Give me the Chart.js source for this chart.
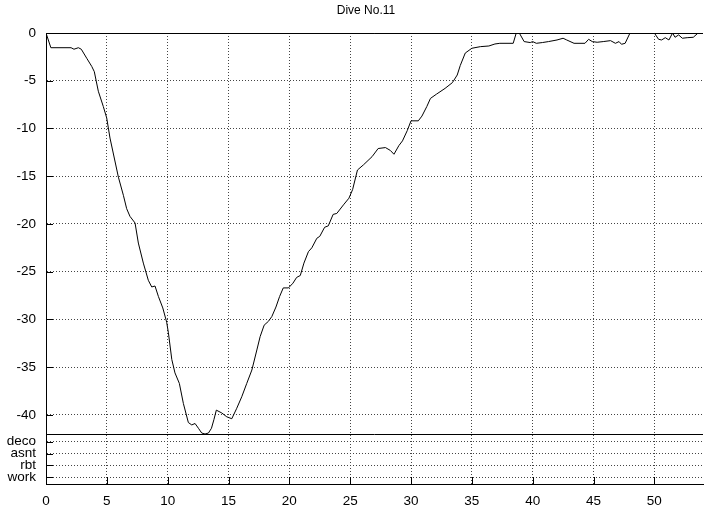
<!DOCTYPE html>
<html>
<head>
<meta charset="utf-8">
<title>Dive No.11</title>
<script src="https://cdn.jsdelivr.net/npm/chart.js@4"></script>
<style>
  html, body { margin: 0; padding: 0; background: #fff; }
  canvas { display: block; }
</style>
</head>
<body>
<canvas id="dive" width="704" height="509" style="width:704px;height:509px;"></canvas>
<script>
// Dive profile, gnuplot look: depth panel on top, phase strip underneath

const TITLE = "Dive No.11";

// minutes
const diveTime = [
  0, 0.4, 2.06, 2.3, 2.66, 2.9, 3.35, 3.76, 3.97, 4.3, 4.71, 4.99, 5.26, 5.95,
  6.36, 6.63, 6.9, 7.32, 7.59, 8.0, 8.41, 8.69, 8.96, 9.24, 9.6, 9.92, 10.06,
  10.34, 10.6, 10.96, 11.29, 11.7, 11.98, 12.25, 12.53, 12.8, 13.07, 13.35,
  13.6, 13.8, 14.0, 14.45, 14.86, 15.27, 15.68, 16.09, 16.5, 16.92, 17.33,
  17.6, 17.93, 18.28, 18.56, 18.9, 19.2, 19.5, 19.93, 20.3, 20.6, 20.9, 21.2,
  21.57, 21.85, 22.26, 22.5, 22.9, 23.2, 23.6, 23.9, 24.45, 24.9, 25.2, 25.6,
  26.1, 26.8, 27.3, 27.9, 28.3, 28.6, 29.0, 29.3, 29.7, 30.0, 30.6, 30.9,
  31.3, 31.6, 32.1, 32.8, 33.4, 33.8, 34.05, 34.46, 35.0, 35.7, 36.4, 36.9,
  37.3, 38.4, 38.65, 38.9, 39.3, 39.8, 40.0, 40.3, 40.8, 41.3, 42.0, 42.5,
  42.8, 43.4, 44.3, 44.6, 44.9, 45.3, 45.8, 46.4, 46.8, 47.1, 47.3, 47.6,
  48.0, 50.0, 50.35, 50.6, 50.9, 51.2, 51.5, 51.7, 52.0, 52.3, 52.7, 53.2,
  53.6, 54
];

// metres
const diveDepth = [
  0, -1.54, -1.54, -1.7, -1.54, -1.7, -2.65, -3.5, -4.05, -6.1, -7.7, -8.9, -11.0, -15.1,
  -17.0, -18.4, -19.2, -19.9, -22.0, -24.1, -25.9, -26.6, -26.5, -27.6, -28.8, -30.3, -31.4,
  -34.2, -35.6, -36.7, -38.8, -40.8, -41.05, -40.9, -41.4, -41.9, -42.0, -41.9,
  -41.4, -40.5, -39.5, -39.8, -40.2, -40.4, -39.3, -38.1, -36.7, -35.3, -33.2,
  -31.8, -30.6, -30.2, -29.7, -28.7, -27.6, -26.7, -26.7, -26.2, -25.6, -25.4, -24.1,
  -22.9, -22.5, -21.5, -21.3, -20.35, -20.2, -19.0, -18.9, -18.0, -17.3, -16.4, -14.35,
  -13.8, -12.95, -12.1, -12.0, -12.3, -12.7, -11.8, -11.3, -10.2, -9.2, -9.2, -8.7,
  -7.7, -6.85, -6.4, -5.8, -5.2, -4.4, -3.4, -2.1, -1.6, -1.43, -1.36, -1.15,
  -1.08, -1.08, 0, 0, -0.9, -1.0, -0.9, -1.08, -1.0, -0.9, -0.73, -0.55,
  -0.73, -1.08, -1.08, -0.66, -0.9, -0.97, -0.9, -0.8, -1.08, -0.9, -1.18, -1.08,
  0, 0, -0.66, -0.73, -0.49, -0.73, 0, -0.45, -0.2, -0.55, -0.49, -0.45,
  0, 0
];

const timeTicks = [0, 5, 10, 15, 20, 25, 30, 35, 40, 45, 50];
const depthTicks = [0, -5, -10, -15, -20, -25, -30, -35, -40];
const phaseNames = ["work", "rbt", "asnt", "deco"]; // bottom to top, values 1..4
const phaseTicks = [1, 2, 3, 4];

const FONT = { family: "'Liberation Sans', Arial, sans-serif", size: 13.5 };
const GRID = { color: "#444", lineWidth: 1, drawTicks: false };
const BORDER = { display: true, color: "#000", width: 1, dash: [1, 2] };

const useTicks = (list) => (scale) => { scale.ticks = list.map(v => ({ value: v })); };

// frame pieces, inward tick marks and the title
const gnuplotFrame = {
  id: "gnuplotFrame",
  afterDraw(chart) {
    const { ctx, chartArea: a, scales } = chart;
    ctx.save();
    ctx.strokeStyle = "#000";
    ctx.lineWidth = 1;
    ctx.beginPath();
    ctx.moveTo(a.left, a.top + 0.5);
    ctx.lineTo(a.right, a.top + 0.5);
    const sep = Math.round(scales.y.bottom) + 0.5;
    ctx.moveTo(a.left, sep);
    ctx.lineTo(a.right, sep);
    scales.x.ticks.forEach(t => {
      const px = Math.round(scales.x.getPixelForValue(t.value)) + 0.5;
      ctx.moveTo(px, a.bottom);
      ctx.lineTo(px, a.bottom - 7);
    });
    ["y", "y2"].forEach(id => {
      scales[id].ticks.forEach(t => {
        const py = Math.round(scales[id].getPixelForValue(t.value)) + 0.5;
        ctx.moveTo(a.left, py);
        ctx.lineTo(a.left + 7, py);
      });
    });
    ctx.stroke();

    ctx.fillStyle = "#000";
    ctx.font = "12px 'Liberation Sans', Arial, sans-serif";
    ctx.textAlign = "center";
    ctx.textBaseline = "middle";
    ctx.fillText(TITLE, 366, 11);
    ctx.restore();
  }
};

new Chart(document.getElementById("dive"), {
  type: "line",
  data: {
    datasets: [{
      data: diveTime.map((t, i) => ({ x: t, y: diveDepth[i] })),
      xAxisID: "x",
      yAxisID: "y",
      borderColor: "#000",
      borderWidth: 1,
      pointRadius: 0,
      tension: 0,
      fill: false
    }]
  },
  options: {
    responsive: false,
    animation: false,
    devicePixelRatio: 1,
    layout: { padding: { top: 33, left: 0, right: 1, bottom: 0 } },
    plugins: { legend: { display: false }, tooltip: { enabled: false }, title: { display: false } },
    scales: {
      x: {
        type: "linear",
        position: "bottom",
        min: 0,
        max: 54,
        grid: GRID,
        border: BORDER,
        afterBuildTicks: useTicks(timeTicks),
        afterFit: (s) => { s.height = 25; },
        ticks: { color: "#000", font: FONT, padding: 9, maxRotation: 0 }
      },
      // left boxes are sorted by descending weight, so the depth panel goes first (top)
      y: {
        type: "linear",
        position: "left",
        stack: "panels",
        stackWeight: 401,
        weight: 1,
        min: -42,
        max: 0,
        grid: GRID,
        border: BORDER,
        afterBuildTicks: useTicks(depthTicks),
        afterFit: (s) => { s.width = 46; },
        ticks: { color: "#000", font: FONT, padding: 10 }
      },
      y2: {
        type: "linear",
        position: "left",
        stack: "panels",
        stackWeight: 50,
        weight: 0,
        min: 0.44,
        max: 4.64,
        grid: GRID,
        border: BORDER,
        afterBuildTicks: useTicks(phaseTicks),
        afterFit: (s) => { s.width = 46; },
        ticks: { color: "#000", font: FONT, padding: 10, autoSkip: false, callback: (v) => phaseNames[v - 1] || "" }
      }
    }
  },
  plugins: [gnuplotFrame]
});
</script>
</body>
</html>
